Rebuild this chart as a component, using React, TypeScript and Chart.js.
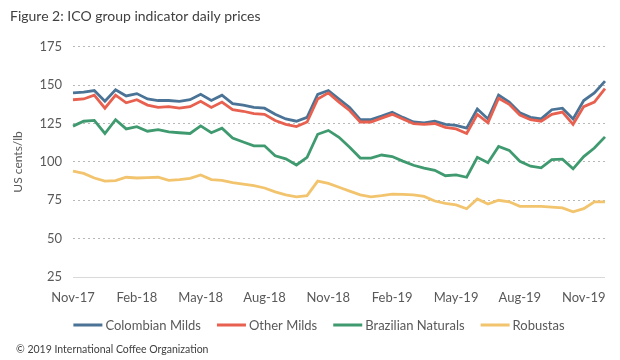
import React, { useEffect, useRef } from "react";
import { Chart, registerables } from "chart.js";

Chart.register(...registerables);

const dates = [
  "2017-11-01","2017-11-16","2017-12-01","2017-12-16","2018-01-01","2018-01-16","2018-02-01","2018-02-16","2018-03-01","2018-03-16",
  "2018-04-01","2018-04-16","2018-05-01","2018-05-16","2018-06-01","2018-06-16","2018-07-01","2018-07-16","2018-08-01","2018-08-16",
  "2018-09-01","2018-09-16","2018-10-01","2018-10-16","2018-11-01","2018-11-16","2018-12-01","2018-12-16","2019-01-01","2019-01-16",
  "2019-02-01","2019-02-16","2019-03-01","2019-03-16","2019-04-01","2019-04-16","2019-05-01","2019-05-16","2019-06-01","2019-06-16",
  "2019-07-01","2019-07-16","2019-08-01","2019-08-16","2019-09-01","2019-09-16","2019-10-01","2019-10-16","2019-11-01","2019-11-16",
  "2019-12-01",
];

const tickDates = ["2017-11-01","2018-02-01","2018-05-01","2018-08-01","2018-11-01","2019-02-01","2019-05-01","2019-08-01","2019-11-01"];
const tickLabels = ["Nov-17","Feb-18","May-18","Aug-18","Nov-18","Feb-19","May-19","Aug-19","Nov-19"];

const colombianMilds = [145,145.5,146.5,139.5,147,143,144.5,141,140,140,139.5,140.5,144,140,143.5,138,137,135.5,135,131,128,126.5,129,144,146.5,141,135.5,127.5,127.5,129.8,132.3,129,126,125.4,126.5,124.5,123.8,122,134.5,128,143.5,139,132,129,128,134,135,128,140,145,152.6];
const otherMilds = [140.5,141,143.5,135,143.5,138.5,140.5,137,135.5,136,135,136,139.5,135.5,139,134,133,131.5,131,127,124.5,123,126,141,145,139,133.5,126,126,128.5,131,128,125,124.5,125,122.5,121.5,118.5,131,125.5,141.5,137.5,130.5,127.5,126.5,131,132.5,124.5,136,139,147.8];
const brazilianNaturals = [123.3,126.5,127,118.5,127.5,121.5,123,120,121,119.5,119,118.5,123.5,119,122,115.5,113,110.5,110.5,104,102,98,103,118,120.5,116,109.5,102.5,102.5,104.5,103.5,100.5,97.8,96,94.5,91,91.5,90,103,99.5,110,107.5,100.4,97.2,96.1,101.5,101.8,95.5,103.5,109,116.3];
const robustas = [94,92.5,89.5,87.5,87.8,90,89.5,89.8,90,88,88.5,89.3,91.5,88.5,88,86.5,85.5,84.5,83,80.5,78.5,77.2,78,87.5,86,83.5,81,78.5,77.2,78,79,78.8,78.5,77.5,74.5,73,72,69.5,75.8,72.5,75,74,71,71,71,70.5,70,67.5,69.5,74,73.9];

const seriesNames = ["Colombian Milds", "Other Milds", "Brazilian Naturals", "Robustas"];
const seriesColors = ["#4a7396", "#e8604f", "#3f9a6f", "#f2c46e"];
const footerText = "© 2019 International Coffee Organization";

const FONT = "Lato, 'Noto Sans', sans-serif";

const legendFooter = {
  id: "legendFooter",
  afterDraw(chart: any) {
    const ctx = chart.ctx as CanvasRenderingContext2D;
    ctx.save();
    ctx.font = `13px ${FONT}`;
    const lineW = 29;
    const gapText = 3;
    const gapItem = 16;
    const widths = seriesNames.map((n) => ctx.measureText(n).width);
    const total =
      widths.reduce((a, w) => a + lineW + gapText + w, 0) + gapItem * (seriesNames.length - 1);
    let x = 319 - total / 2;
    const y = 325;
    ctx.textBaseline = "middle";
    ctx.textAlign = "left";
    seriesNames.forEach((name, i) => {
      ctx.fillStyle = seriesColors[i];
      ctx.fillRect(x, y - 1.5, lineW, 3);
      ctx.fillStyle = "#595959";
      ctx.fillText(name, x + lineW + gapText, y + 0.5);
      x += lineW + gapText + widths[i] + gapItem;
    });
    ctx.font = `10.5px ${FONT}`;
    ctx.fillStyle = "#404040";
    ctx.fillText(footerText, 16, 350);
    ctx.restore();
  },
};

export default function App() {
  const ref = useRef<HTMLCanvasElement | null>(null);

  useEffect(() => {
    document.body.style.margin = "0";
    const canvas = ref.current;
    if (!canvas) return;
    const values = [colombianMilds, otherMilds, brazilianNaturals, robustas];
    const orders = [1, 0, 0, 0];
    const chart = new Chart(canvas, {
      type: "line",
      data: {
        labels: dates,
        datasets: values.map((v, i) => ({
          label: seriesNames[i],
          data: v,
          borderColor: seriesColors[i],
          backgroundColor: seriesColors[i],
          borderWidth: 2.8,
          pointRadius: 0,
          tension: 0,
          order: orders[i],
        })),
      },
      options: {
        animation: false,
        responsive: true,
        maintainAspectRatio: false,
        layout: { padding: { left: 10, right: 15, top: 0, bottom: 53 } },
        scales: {
          x: {
            type: "category",
            offset: false,
            grid: { display: false, drawTicks: false },
            border: { display: false },
            afterFit: (s: any) => { s.height = 30; },
            ticks: {
              autoSkip: false,
              maxRotation: 0,
              minRotation: 0,
              padding: 13,
              color: "#595959",
              font: { family: FONT, size: 13 },
              callback: function (this: any, _v: any, idx: number) {
                const k = tickDates.indexOf(dates[idx]);
                return k >= 0 ? tickLabels[k] : "";
              },
            },
          },
          y: {
            min: 25,
            max: 175,
            afterFit: (s: any) => { s.width = 63; },
            grid: {
              drawTicks: false,
              color: (c: any) => (c.tick && c.tick.value === 25 ? "#d9d9d9" : "#b8b8b8"),
              lineWidth: 1,
            },
            border: {
              display: false,
              dash: (c: any) => (c.tick && c.tick.value === 25 ? [] : [2, 3]),
            },
            ticks: {
              stepSize: 25,
              padding: 11,
              color: "#595959",
              font: { family: FONT, size: 13 },
            },
            title: {
              display: true,
              text: "US cents/lb",
              color: "#595959",
              font: { family: FONT, size: 12 },
              padding: { top: 1, bottom: 0 },
            },
          },
        },
        plugins: {
          title: {
            display: true,
            text: "Figure 2: ICO group indicator daily prices",
            align: "start",
            color: "#404040",
            font: { family: FONT, size: 14, weight: "normal" },
            padding: { top: 8, bottom: 22 },
          },
          legend: { display: false },
          tooltip: { enabled: false },
        },
      },
      plugins: [legendFooter],
    });
    return () => chart.destroy();
  }, []);

  return (
    <div style={{ width: 620, height: 360, position: "relative" }}>
      <canvas ref={ref} />
    </div>
  );
}
